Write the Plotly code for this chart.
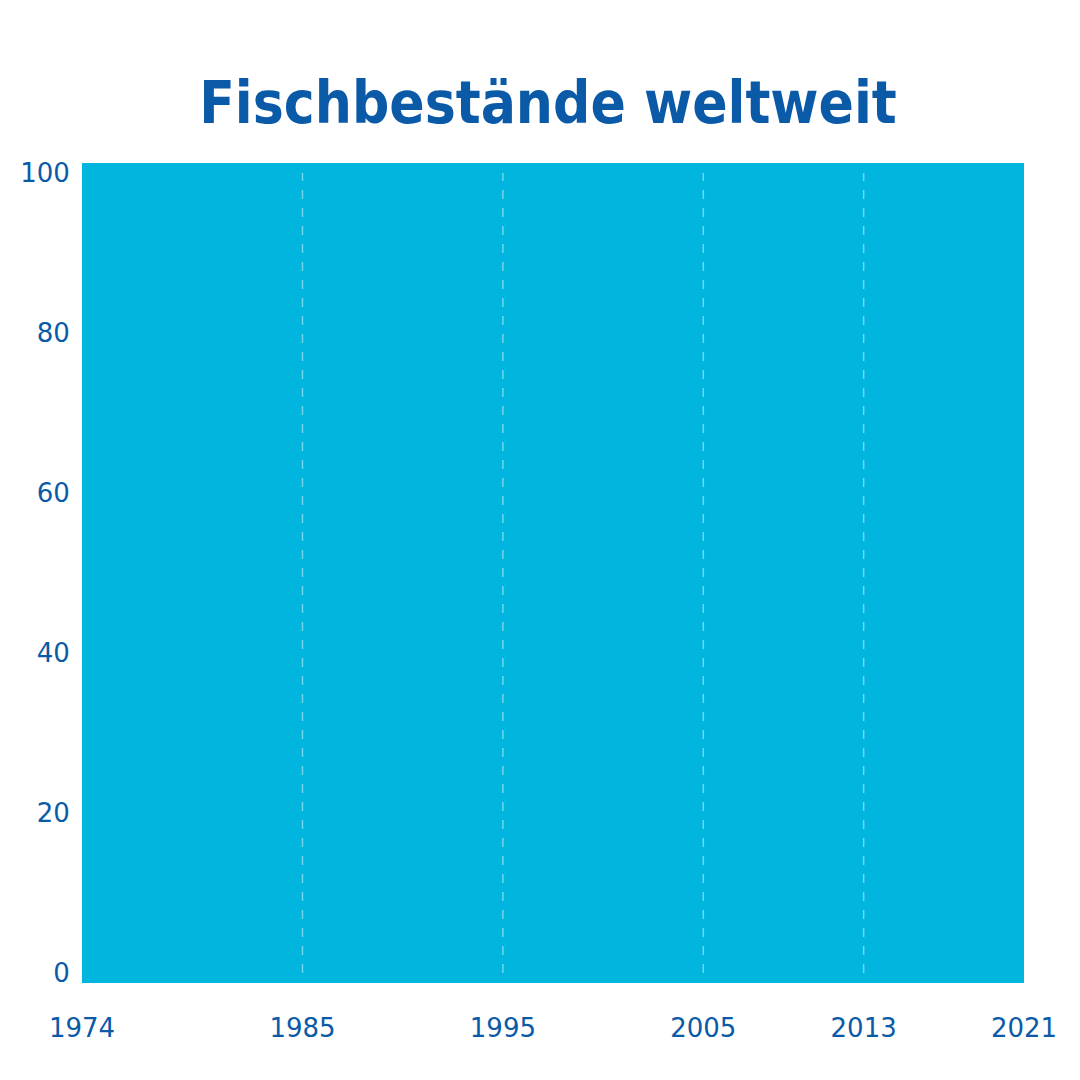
import plotly.graph_objects as go

years = [1974, 1985, 1995, 2005, 2013, 2021]
values = [100, 100, 100, 100, 100, 100]
grid_years = [1985, 1995, 2005, 2013]
title = "Fischbestände weltweit"

blue = "#0A5AA8"
cyan = "#00B5DE"

fig = go.Figure()
fig.add_trace(go.Scatter(x=years, y=values, fill="tozeroy", mode="lines",
                         line=dict(width=0, color=cyan), fillcolor=cyan,
                         hoverinfo="skip", showlegend=False))
for gy in grid_years:
    fig.add_shape(type="line", x0=gy, x1=gy, y0=0, y1=100, xref="x", yref="y",
                  line=dict(color="rgba(255,255,255,0.45)", width=1.5, dash="dash"))

fig.update_layout(
    width=1080, height=1080,
    paper_bgcolor="white", plot_bgcolor=cyan,
    margin=dict(l=71, r=64, t=155, b=105),
    title=dict(text="<b>" + title + "</b>", x=0.5, xanchor="center", y=0.912, yanchor="middle",
               font=dict(family="Liberation Sans Narrow, DejaVu Sans Condensed, sans-serif", size=58, color=blue)),
    font=dict(family="DejaVu Sans, sans-serif", size=26, color=blue),
    xaxis=dict(range=[1974, 2021], tickvals=years, ticktext=[str(y) for y in years],
               showgrid=False, zeroline=False, ticks="outside", ticklen=22, tickcolor="rgba(0,0,0,0)",
               tickfont=dict(size=26, color=blue)),
    yaxis=dict(range=[-1.25, 101.25], tickvals=[0, 20, 40, 60, 80, 100],
               showgrid=False, zeroline=False, ticks="outside", ticklen=6, tickcolor="rgba(0,0,0,0)",
               tickfont=dict(size=26, color=blue)),
)
fig.write_html("out.html")
